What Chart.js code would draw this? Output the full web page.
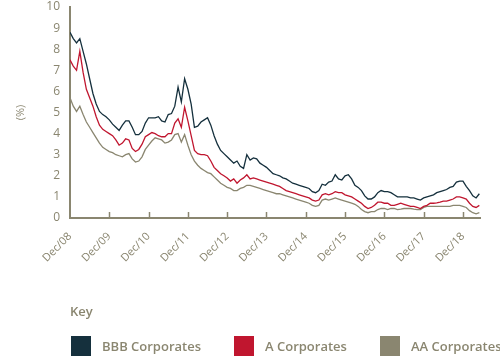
<!DOCTYPE html>
<html><head><meta charset="utf-8">
<script src="https://cdn.jsdelivr.net/npm/chart.js@4/dist/chart.umd.min.js"></script>
<style>
body{margin:0;width:500px;height:356px;overflow:hidden;background:#fff;font-family:"Open Sans",sans-serif;}
#wrap{position:relative;width:500px;height:356px;}
canvas{position:absolute;left:0;top:0;}
.key{position:absolute;left:70px;top:302px;font-size:13px;font-weight:600;color:#8a8670;}
.item{position:absolute;top:336px;height:20px;display:flex;align-items:center;font-size:13px;font-weight:600;color:#8a8670;white-space:nowrap;}
.sw{width:20px;height:20px;margin-right:11px;}
</style></head>
<body>
<div id="wrap"><canvas id="c" width="500" height="356"></canvas>
<div class="key">Key</div>
<div id="legend"></div>
</div>
<script>
const tickLabels = ["Dec/08","Dec/09","Dec/10","Dec/11","Dec/12","Dec/13","Dec/14","Dec/15","Dec/16","Dec/17","Dec/18"];
const seriesNames = ["BBB Corporates","A Corporates","AA Corporates"];
const seriesColors = ["#15303d","#c0162f","#8a8670"];
// monthly values, Dec 2008 .. May 2019
const bbb = [8.8,8.5,8.3,8.5,7.9,7.3,6.6,5.9,5.4,5.05,4.9,4.8,4.65,4.45,4.3,4.15,4.4,4.6,4.6,4.3,3.95,3.95,4.1,4.5,4.75,4.75,4.75,4.8,4.6,4.55,4.9,4.95,5.3,6.2,5.5,6.6,6.1,5.4,4.3,4.35,4.55,4.65,4.75,4.4,3.9,3.5,3.2,3.05,2.9,2.75,2.6,2.7,2.45,2.35,3.0,2.75,2.85,2.8,2.6,2.5,2.4,2.25,2.1,2.05,2.0,1.9,1.85,1.75,1.65,1.6,1.55,1.5,1.45,1.4,1.25,1.2,1.3,1.6,1.55,1.7,1.75,2.05,1.85,1.8,2.0,2.05,1.85,1.55,1.45,1.3,1.05,0.9,0.9,1.0,1.2,1.3,1.25,1.25,1.2,1.1,1.0,1.0,1.0,1.0,0.95,0.95,0.9,0.85,0.95,1.0,1.05,1.1,1.2,1.25,1.3,1.35,1.45,1.5,1.7,1.75,1.75,1.5,1.3,1.05,0.95,1.15];
const aCorp = [7.5,7.2,7.0,7.9,6.9,6.1,5.7,5.3,4.8,4.4,4.2,4.1,4.0,3.9,3.7,3.45,3.55,3.75,3.7,3.3,3.15,3.25,3.5,3.85,3.95,4.05,4.0,3.9,3.85,3.85,4.0,4.0,4.5,4.7,4.3,5.25,4.6,3.9,3.2,3.05,3.0,3.0,2.95,2.7,2.4,2.25,2.1,2.0,1.9,1.75,1.85,1.65,1.8,1.9,2.05,1.85,1.9,1.85,1.8,1.75,1.7,1.65,1.6,1.55,1.5,1.4,1.3,1.25,1.2,1.15,1.1,1.05,1.0,0.95,0.85,0.8,0.85,1.1,1.15,1.1,1.15,1.25,1.2,1.2,1.1,1.05,1.0,0.9,0.8,0.7,0.55,0.45,0.5,0.6,0.75,0.75,0.7,0.7,0.6,0.6,0.65,0.7,0.65,0.6,0.55,0.55,0.5,0.45,0.55,0.6,0.7,0.7,0.72,0.75,0.8,0.8,0.85,0.9,1.0,1.0,0.95,0.9,0.7,0.55,0.5,0.6];
const aaCorp = [5.7,5.3,5.05,5.3,4.9,4.55,4.3,4.05,3.8,3.55,3.35,3.25,3.15,3.1,3.0,2.95,2.9,3.0,3.05,2.8,2.65,2.7,2.9,3.25,3.45,3.65,3.8,3.75,3.7,3.55,3.6,3.7,3.95,4.0,3.6,3.95,3.45,3.0,2.7,2.5,2.35,2.25,2.15,2.1,1.95,1.8,1.65,1.55,1.45,1.4,1.3,1.3,1.4,1.45,1.55,1.55,1.5,1.45,1.4,1.35,1.3,1.25,1.2,1.15,1.15,1.1,1.05,1.0,0.95,0.9,0.85,0.8,0.75,0.7,0.6,0.55,0.6,0.85,0.9,0.85,0.9,0.95,0.9,0.85,0.8,0.75,0.7,0.65,0.55,0.4,0.3,0.25,0.3,0.3,0.4,0.45,0.45,0.4,0.45,0.45,0.4,0.42,0.45,0.45,0.45,0.42,0.4,0.4,0.5,0.55,0.55,0.55,0.55,0.55,0.55,0.55,0.55,0.6,0.6,0.6,0.55,0.5,0.35,0.25,0.2,0.25];
const yTicks = [0,1,2,3,4,5,6,7,8,9,10];

const grey = "#8a8670";
const toPts = arr => arr.map((v,i)=>({x:i,y:v}));
const allSeries = [bbb,aCorp,aaCorp];

const innerTicks = {
  id:'innerTicks',
  afterDatasetsDraw(chart){
    const s = chart.scales.x, ctx = chart.ctx;
    ctx.save(); ctx.strokeStyle = grey; ctx.lineWidth = 1.5;
    s.ticks.forEach(t=>{
      if (t.value===0) return;
      const px = Math.round(s.getPixelForValue(t.value))+0.5;
      ctx.beginPath(); ctx.moveTo(px, s.top); ctx.lineTo(px, s.top-6); ctx.stroke();
    });
    ctx.restore();
  }
};

new Chart(document.getElementById('c'), {
  type:'line',
  data:{datasets: allSeries.map((arr,k)=>({
    label: seriesNames[k], data: toPts(arr), borderColor: seriesColors[k],
    borderWidth:1.3, pointRadius:0, tension:0, fill:false, order: k
  }))},
  options:{
    responsive:false, animation:false,
    layout:{padding:{top:7,right:20,bottom:0,left:0}},
    plugins:{legend:{display:false},tooltip:{enabled:false}},
    scales:{
      x:{type:'linear', min:0, max:125.2,
        afterBuildTicks(s){ s.ticks = tickLabels.map((l,i)=>({value:i*12})); },
        afterFit(s){ s.height = 138; s.paddingTop = 0; },
        grid:{display:false, drawTicks:false},
        border:{display:true, color:grey, width:2},
        ticks:{autoSkip:false, maxRotation:45, minRotation:45, padding:12, color:grey,
          font:{family:"Open Sans", size:11},
          callback:(v)=> tickLabels[Math.round(v/12)] }
      },
      y:{min:0, max:10,
        afterBuildTicks(s){ s.ticks = yTicks.map(v=>({value:v})); },
        afterFit(s){ s.width = 70; s.paddingTop = 0; s.paddingBottom = 0; },
        grid:{display:false, drawTicks:false},
        border:{display:true, color:grey, width:2},
        ticks:{padding:10, color:grey, font:{family:"Open Sans", size:12}},
        title:{display:true, text:"(%)", color:grey, font:{family:"Open Sans", size:11}, padding:{top:14,bottom:0}}
      }
    }
  },
  plugins:[innerTicks]
});

const lx = [71,234,380];
const leg = document.getElementById('legend');
seriesNames.forEach((n,k)=>{
  const d = document.createElement('div'); d.className='item'; d.style.left = lx[k]+'px';
  d.innerHTML = '<span class="sw" style="background:'+seriesColors[k]+'"></span><span>'+n+'</span>';
  leg.appendChild(d);
});
</script>
</body></html>
